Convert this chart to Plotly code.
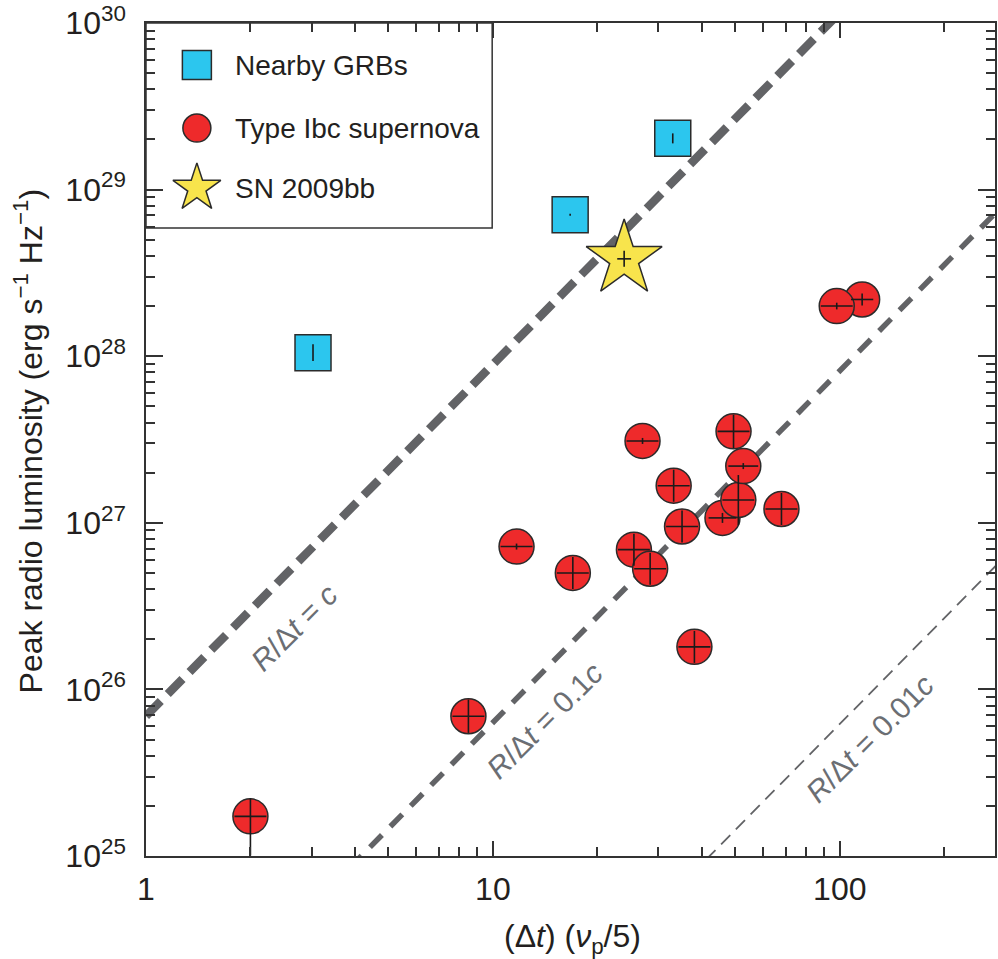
import numpy as np
import plotly.graph_objects as go

# ---------------- data ----------------
grb_dt = [3.03, 16.7, 33.0]
grb_lum = [1.05e28, 7.06e28, 2.03e29]
grb_yerr_dex = [0.05, 0.006, 0.03]

sn_dt = [2.0, 8.5, 11.7, 17.0, 25.5, 27.0, 28.4, 33.2, 35.1, 38.1,
         45.9, 49.4, 51.0, 52.7, 67.9, 116.0, 98.0]
sn_lum = [1.73e25, 6.9e25, 7.2e26, 5.0e26, 6.9e26, 3.1e27, 5.3e26, 1.67e27,
          9.5e26, 1.8e26, 1.07e27, 3.54e27, 1.37e27, 2.19e27, 1.21e27,
          2.19e28, 2.0e28]
sn_xerr_dex = [0.046, 0.046, 0.046, 0.046, 0.046, 0.046, 0.046, 0.046, 0.046,
               0.046, 0.040, 0.046, 0.046, 0.043, 0.046, 0.032, 0.046]
sn_yerr_plus_dex = [0.108, 0.10, 0.018, 0.096, 0.096, 0.018, 0.096, 0.096,
                    0.096, 0.096, 0.03, 0.10, 0.15, 0.018, 0.096, 0.036, 0.02]
sn_yerr_minus_dex = [0.235, 0.10, 0.018, 0.096, 0.096, 0.018, 0.096, 0.096,
                     0.096, 0.096, 0.03, 0.10, 0.15, 0.018, 0.096, 0.036, 0.02]

star_dt = [23.9]
star_lum = [3.84e28]
star_xerr_dex = [0.02]
star_yerr_dex = [0.048]

# reference lines: log10 L = intercept + slope * log10(dt)
line_labels = ["c", "0.1c", "0.01c"]
line_intercepts = [25.84, 23.69, 21.57]
line_slope = 19.0 / 9.0
line_x_span = [1.0, 300.0]

x_tickvals = [1, 10, 100]
x_ticktext = ["1", "10", "100"]
y_tickvals = [1e25, 1e26, 1e27, 1e28, 1e29, 1e30]
y_ticktext = ["10<sup>%d</sup>" % e for e in range(25, 31)]

# ---------------- helpers ----------------
def lin_err(vals, dex_plus, dex_minus):
    v = np.array(vals, dtype=float)
    p = v * (10 ** np.array(dex_plus) - 1)
    m = v * (1 - 10 ** (-np.array(dex_minus)))
    return p.tolist(), m.tolist()

FONT = "Liberation Sans, Arial, Helvetica, sans-serif"
INK = "#231f20"
EDGE = "#2b2b2b"
LINEGRAY = "#626366"
LABELGRAY = "#6b6e73"

fig = go.Figure()

# dashed relation lines
line_styles = [dict(width=8.5, dash="21px,10px"),
               dict(width=5.5, dash="17px,12px"),
               dict(width=1.8, dash="13px,8px")]
for lab, icpt, st in zip(line_labels, line_intercepts, line_styles):
    xs = np.array(line_x_span)
    ys = 10 ** (icpt + line_slope * np.log10(xs))
    fig.add_trace(go.Scatter(x=xs, y=ys, mode="lines", hoverinfo="skip",
                             line=dict(color=LINEGRAY, width=st["width"], dash=st["dash"]),
                             showlegend=False))

# GRBs
fig.add_trace(go.Scatter(x=grb_dt, y=grb_lum, mode="markers", showlegend=False,
                         marker=dict(symbol="square", size=36, color="#2cc6ee", opacity=1,
                                     line=dict(color=EDGE, width=1.5))))
# SNe
fig.add_trace(go.Scatter(x=sn_dt, y=sn_lum, mode="markers", showlegend=False,
                         marker=dict(symbol="circle", size=35, color="#ee2a2b", opacity=1,
                                     line=dict(color=EDGE, width=1.5))))
# SN 2009bb
fig.add_trace(go.Scatter(x=star_dt, y=star_lum, mode="markers", showlegend=False,
                         marker=dict(symbol="star", size=57, color="#f8e44c", opacity=1,
                                     line=dict(color=EDGE, width=1.5))))

# error bars drawn on top of markers
eb = dict(type="data", symmetric=False, color="#1a1a1a", thickness=1.6, width=0)
TRANSP = dict(color="rgba(0,0,0,0)", size=2)

gp, gm = lin_err(grb_lum, grb_yerr_dex, grb_yerr_dex)
fig.add_trace(go.Scatter(x=grb_dt, y=grb_lum, mode="markers", marker=TRANSP,
                         showlegend=False, hoverinfo="skip",
                         error_y=dict(eb, array=gp, arrayminus=gm)))

sxp, sxm = lin_err(sn_dt, sn_xerr_dex, sn_xerr_dex)
syp, sym = lin_err(sn_lum, sn_yerr_plus_dex, sn_yerr_minus_dex)
fig.add_trace(go.Scatter(x=sn_dt, y=sn_lum, mode="markers", marker=TRANSP,
                         showlegend=False, hoverinfo="skip",
                         error_x=dict(eb, array=sxp, arrayminus=sxm),
                         error_y=dict(eb, array=syp, arrayminus=sym)))

txp, txm = lin_err(star_dt, star_xerr_dex, star_xerr_dex)
typ, tym = lin_err(star_lum, star_yerr_dex, star_yerr_dex)
fig.add_trace(go.Scatter(x=star_dt, y=star_lum, mode="markers", marker=TRANSP,
                         showlegend=False, hoverinfo="skip",
                         error_x=dict(eb, array=txp, arrayminus=txm),
                         error_y=dict(eb, array=typ, arrayminus=tym)))

# ---------------- custom legend (overlay pixel axes) ----------------
PLOT_W, PLOT_H = 851, 832.7
leg_names = ["Nearby GRBs", "Type Ibc supernova", "SN 2009bb"]
leg_symbols = ["square", "circle", "star"]
leg_colors = ["#2cc6ee", "#ee2a2b", "#f8e44c"]
leg_sizes = [29, 28, 36]
leg_y = [42, 105, 165]
fig.add_trace(go.Scatter(x=[51, 51, 51], y=leg_y, xaxis="x2", yaxis="y2",
                         mode="markers", showlegend=False, hoverinfo="skip",
                         marker=dict(symbol=leg_symbols, size=leg_sizes, color=leg_colors,
                                     opacity=1, line=dict(color=EDGE, width=1.5))))
fig.add_shape(type="rect", xref="x2", yref="y2", x0=0, x1=347, y0=0, y1=205,
              line=dict(color="#333333", width=1.5), fillcolor="white", layer="below")
annotations = []
for name, yy in zip(leg_names, leg_y):
    annotations.append(dict(x=87, y=yy, xref="x2", yref="y2", text=name, showarrow=False,
                            xanchor="left", yanchor="middle",
                            font=dict(family=FONT, size=28, color=INK)))

# line labels (positions in log10 data units)
label_pos = [(np.log10(2.67), 26.374), (np.log10(14.1), 25.814), (np.log10(122.0), 25.704)]
for lab, (lx, ly) in zip(line_labels, label_pos):
    if lab == "c":
        txt = "<i>R</i>/Δ<i>t</i> = <i>c</i>"
    else:
        txt = "<i>R</i>/Δ<i>t</i> = " + lab[:-1] + "<i>c</i>"
    annotations.append(dict(x=lx, y=ly, xref="x", yref="y", text=txt, showarrow=False,
                            textangle=-45, xanchor="center", yanchor="middle",
                            font=dict(family=FONT, size=30, color=LABELGRAY)))

# axis titles
annotations.append(dict(x=-118 / PLOT_W, y=0.5 + (855.7 - 441 - PLOT_H / 2) / PLOT_H,
                        xref="paper", yref="paper",
                        text="Peak radio luminosity (erg s<sup>−1</sup> Hz<sup>−1</sup>)",
                        textangle=-90, showarrow=False, xanchor="center", yanchor="middle",
                        font=dict(family=FONT, size=32, color=INK)))
annotations.append(dict(x=(574 - 146) / PLOT_W, y=-(938 - 855.7) / PLOT_H,
                        xref="paper", yref="paper",
                        text="(Δ<i>t</i>) (<i>ν</i><sub>p</sub>/5)",
                        showarrow=False, xanchor="center", yanchor="middle",
                        font=dict(family=FONT, size=32, color=INK)))

x_minor = [m * 10 ** d for d in range(0, 3) for m in range(2, 10) if m * 10 ** d < 300]
y_minor = [m * 10.0 ** d for d in range(25, 30) for m in range(2, 10)]

axis_common = dict(type="log", showgrid=False, zeroline=False, showline=True,
                   linecolor="#333333", linewidth=1.5, mirror="ticks",
                   ticks="inside", tickcolor="#333333", tickwidth=1.5,
                   tickfont=dict(family=FONT, size=32, color=INK))

fig.update_layout(
    width=998, height=959,
    margin=dict(l=146, r=1, t=23, b=959 - 23 - PLOT_H),
    paper_bgcolor="white", plot_bgcolor="white",
    font=dict(family=FONT, color=INK),
    xaxis=dict(axis_common, range=[0, 850.0 / 347.3], tickmode="array",
               tickvals=x_tickvals, ticktext=x_ticktext, ticklen=15,
               ticklabelstandoff=4,
               minor=dict(tickvals=x_minor, ticks="inside", ticklen=9,
                          tickcolor="#333333", tickwidth=1.5)),
    yaxis=dict(axis_common, range=[25, 30], tickmode="array",
               tickvals=y_tickvals, ticktext=y_ticktext, ticklen=17,
               ticklabelstandoff=12,
               minor=dict(tickvals=y_minor, ticks="inside", ticklen=9,
                          tickcolor="#333333", tickwidth=1.5)),
    xaxis2=dict(overlaying="x", range=[0, PLOT_W], visible=False, anchor="y2"),
    yaxis2=dict(overlaying="y", range=[PLOT_H, 0], visible=False, anchor="x2"),
    annotations=annotations,
    showlegend=False,
)

fig.write_html("out.html")
